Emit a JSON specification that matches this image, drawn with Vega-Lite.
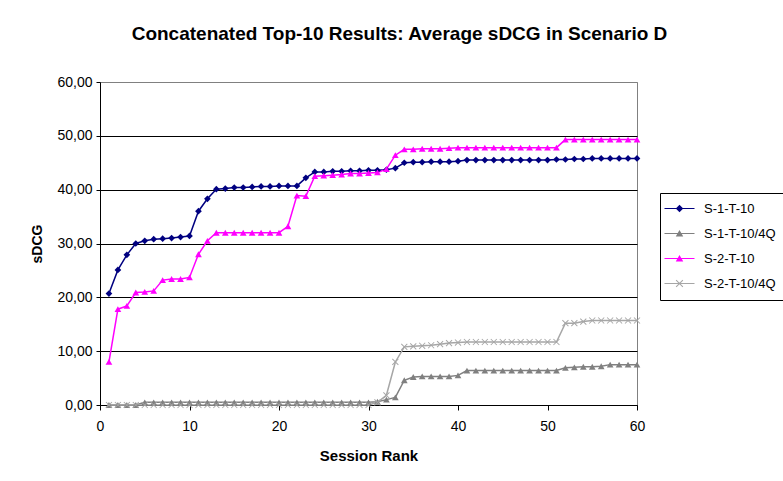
{
  "$schema": "https://vega.github.io/schema/vega-lite/v6.json",
  "width": 537,
  "height": 323,
  "autosize": "none",
  "padding": {"left": 100, "top": 82, "right": 146, "bottom": 76},
  "background": "white",
  "config": {"view": {"stroke": "#808080", "strokeWidth": 1}, "font": "Liberation Sans"},
  "title": {"text": "Concatenated Top-10 Results: Average sDCG in Scenario D", "font": "Liberation Sans", "fontSize": 19, "fontWeight": "bold", "color": "black", "anchor": "middle", "dx": 31, "offset": 31},
  "data": {"values": [
    {"rank": 1, "S-1-T-10": 20.7, "S-1-T-10/4Q": 0.0, "S-2-T-10": 8.0, "S-2-T-10/4Q": 0.0},
    {"rank": 2, "S-1-T-10": 25.1, "S-1-T-10/4Q": 0.0, "S-2-T-10": 17.8, "S-2-T-10/4Q": 0.0},
    {"rank": 3, "S-1-T-10": 27.9, "S-1-T-10/4Q": 0.0, "S-2-T-10": 18.4, "S-2-T-10/4Q": 0.0},
    {"rank": 4, "S-1-T-10": 30.0, "S-1-T-10/4Q": 0.0, "S-2-T-10": 20.9, "S-2-T-10/4Q": 0.0},
    {"rank": 5, "S-1-T-10": 30.5, "S-1-T-10/4Q": 0.5, "S-2-T-10": 21.0, "S-2-T-10/4Q": 0.0},
    {"rank": 6, "S-1-T-10": 30.8, "S-1-T-10/4Q": 0.5, "S-2-T-10": 21.2, "S-2-T-10/4Q": 0.0},
    {"rank": 7, "S-1-T-10": 30.9, "S-1-T-10/4Q": 0.5, "S-2-T-10": 23.2, "S-2-T-10/4Q": 0.0},
    {"rank": 8, "S-1-T-10": 31.0, "S-1-T-10/4Q": 0.5, "S-2-T-10": 23.4, "S-2-T-10/4Q": 0.0},
    {"rank": 9, "S-1-T-10": 31.2, "S-1-T-10/4Q": 0.5, "S-2-T-10": 23.4, "S-2-T-10/4Q": 0.0},
    {"rank": 10, "S-1-T-10": 31.4, "S-1-T-10/4Q": 0.5, "S-2-T-10": 23.7, "S-2-T-10/4Q": 0.0},
    {"rank": 11, "S-1-T-10": 36.0, "S-1-T-10/4Q": 0.5, "S-2-T-10": 28.0, "S-2-T-10/4Q": 0.0},
    {"rank": 12, "S-1-T-10": 38.3, "S-1-T-10/4Q": 0.5, "S-2-T-10": 30.5, "S-2-T-10/4Q": 0.0},
    {"rank": 13, "S-1-T-10": 40.1, "S-1-T-10/4Q": 0.5, "S-2-T-10": 32.0, "S-2-T-10/4Q": 0.0},
    {"rank": 14, "S-1-T-10": 40.2, "S-1-T-10/4Q": 0.5, "S-2-T-10": 32.0, "S-2-T-10/4Q": 0.0},
    {"rank": 15, "S-1-T-10": 40.4, "S-1-T-10/4Q": 0.5, "S-2-T-10": 32.0, "S-2-T-10/4Q": 0.0},
    {"rank": 16, "S-1-T-10": 40.4, "S-1-T-10/4Q": 0.5, "S-2-T-10": 32.0, "S-2-T-10/4Q": 0.0},
    {"rank": 17, "S-1-T-10": 40.5, "S-1-T-10/4Q": 0.5, "S-2-T-10": 32.0, "S-2-T-10/4Q": 0.0},
    {"rank": 18, "S-1-T-10": 40.6, "S-1-T-10/4Q": 0.5, "S-2-T-10": 32.0, "S-2-T-10/4Q": 0.0},
    {"rank": 19, "S-1-T-10": 40.6, "S-1-T-10/4Q": 0.5, "S-2-T-10": 32.0, "S-2-T-10/4Q": 0.0},
    {"rank": 20, "S-1-T-10": 40.7, "S-1-T-10/4Q": 0.5, "S-2-T-10": 32.0, "S-2-T-10/4Q": 0.0},
    {"rank": 21, "S-1-T-10": 40.7, "S-1-T-10/4Q": 0.5, "S-2-T-10": 33.2, "S-2-T-10/4Q": 0.0},
    {"rank": 22, "S-1-T-10": 40.7, "S-1-T-10/4Q": 0.5, "S-2-T-10": 38.9, "S-2-T-10/4Q": 0.0},
    {"rank": 23, "S-1-T-10": 42.2, "S-1-T-10/4Q": 0.5, "S-2-T-10": 38.8, "S-2-T-10/4Q": 0.0},
    {"rank": 24, "S-1-T-10": 43.3, "S-1-T-10/4Q": 0.5, "S-2-T-10": 42.5, "S-2-T-10/4Q": 0.0},
    {"rank": 25, "S-1-T-10": 43.3, "S-1-T-10/4Q": 0.5, "S-2-T-10": 42.6, "S-2-T-10/4Q": 0.0},
    {"rank": 26, "S-1-T-10": 43.4, "S-1-T-10/4Q": 0.5, "S-2-T-10": 42.7, "S-2-T-10/4Q": 0.0},
    {"rank": 27, "S-1-T-10": 43.4, "S-1-T-10/4Q": 0.5, "S-2-T-10": 42.8, "S-2-T-10/4Q": 0.0},
    {"rank": 28, "S-1-T-10": 43.5, "S-1-T-10/4Q": 0.5, "S-2-T-10": 43.0, "S-2-T-10/4Q": 0.0},
    {"rank": 29, "S-1-T-10": 43.5, "S-1-T-10/4Q": 0.5, "S-2-T-10": 43.0, "S-2-T-10/4Q": 0.0},
    {"rank": 30, "S-1-T-10": 43.6, "S-1-T-10/4Q": 0.5, "S-2-T-10": 43.1, "S-2-T-10/4Q": 0.0},
    {"rank": 31, "S-1-T-10": 43.6, "S-1-T-10/4Q": 0.6, "S-2-T-10": 43.2, "S-2-T-10/4Q": 0.5},
    {"rank": 32, "S-1-T-10": 43.7, "S-1-T-10/4Q": 1.0, "S-2-T-10": 43.8, "S-2-T-10/4Q": 1.8},
    {"rank": 33, "S-1-T-10": 44.0, "S-1-T-10/4Q": 1.4, "S-2-T-10": 46.4, "S-2-T-10/4Q": 8.0},
    {"rank": 34, "S-1-T-10": 45.0, "S-1-T-10/4Q": 4.6, "S-2-T-10": 47.5, "S-2-T-10/4Q": 10.8},
    {"rank": 35, "S-1-T-10": 45.1, "S-1-T-10/4Q": 5.2, "S-2-T-10": 47.5, "S-2-T-10/4Q": 10.9},
    {"rank": 36, "S-1-T-10": 45.1, "S-1-T-10/4Q": 5.3, "S-2-T-10": 47.6, "S-2-T-10/4Q": 11.0},
    {"rank": 37, "S-1-T-10": 45.2, "S-1-T-10/4Q": 5.3, "S-2-T-10": 47.6, "S-2-T-10/4Q": 11.1},
    {"rank": 38, "S-1-T-10": 45.2, "S-1-T-10/4Q": 5.3, "S-2-T-10": 47.6, "S-2-T-10/4Q": 11.3},
    {"rank": 39, "S-1-T-10": 45.2, "S-1-T-10/4Q": 5.3, "S-2-T-10": 47.7, "S-2-T-10/4Q": 11.5},
    {"rank": 40, "S-1-T-10": 45.3, "S-1-T-10/4Q": 5.5, "S-2-T-10": 47.8, "S-2-T-10/4Q": 11.6},
    {"rank": 41, "S-1-T-10": 45.5, "S-1-T-10/4Q": 6.4, "S-2-T-10": 47.8, "S-2-T-10/4Q": 11.7},
    {"rank": 42, "S-1-T-10": 45.5, "S-1-T-10/4Q": 6.4, "S-2-T-10": 47.8, "S-2-T-10/4Q": 11.7},
    {"rank": 43, "S-1-T-10": 45.5, "S-1-T-10/4Q": 6.4, "S-2-T-10": 47.8, "S-2-T-10/4Q": 11.7},
    {"rank": 44, "S-1-T-10": 45.5, "S-1-T-10/4Q": 6.4, "S-2-T-10": 47.8, "S-2-T-10/4Q": 11.7},
    {"rank": 45, "S-1-T-10": 45.5, "S-1-T-10/4Q": 6.4, "S-2-T-10": 47.8, "S-2-T-10/4Q": 11.7},
    {"rank": 46, "S-1-T-10": 45.5, "S-1-T-10/4Q": 6.4, "S-2-T-10": 47.8, "S-2-T-10/4Q": 11.7},
    {"rank": 47, "S-1-T-10": 45.5, "S-1-T-10/4Q": 6.4, "S-2-T-10": 47.8, "S-2-T-10/4Q": 11.7},
    {"rank": 48, "S-1-T-10": 45.5, "S-1-T-10/4Q": 6.4, "S-2-T-10": 47.8, "S-2-T-10/4Q": 11.7},
    {"rank": 49, "S-1-T-10": 45.5, "S-1-T-10/4Q": 6.4, "S-2-T-10": 47.8, "S-2-T-10/4Q": 11.7},
    {"rank": 50, "S-1-T-10": 45.5, "S-1-T-10/4Q": 6.4, "S-2-T-10": 47.8, "S-2-T-10/4Q": 11.7},
    {"rank": 51, "S-1-T-10": 45.6, "S-1-T-10/4Q": 6.4, "S-2-T-10": 47.8, "S-2-T-10/4Q": 11.7},
    {"rank": 52, "S-1-T-10": 45.6, "S-1-T-10/4Q": 6.9, "S-2-T-10": 49.3, "S-2-T-10/4Q": 15.2},
    {"rank": 53, "S-1-T-10": 45.7, "S-1-T-10/4Q": 7.0, "S-2-T-10": 49.3, "S-2-T-10/4Q": 15.2},
    {"rank": 54, "S-1-T-10": 45.7, "S-1-T-10/4Q": 7.1, "S-2-T-10": 49.3, "S-2-T-10/4Q": 15.5},
    {"rank": 55, "S-1-T-10": 45.8, "S-1-T-10/4Q": 7.1, "S-2-T-10": 49.3, "S-2-T-10/4Q": 15.7},
    {"rank": 56, "S-1-T-10": 45.8, "S-1-T-10/4Q": 7.2, "S-2-T-10": 49.3, "S-2-T-10/4Q": 15.7},
    {"rank": 57, "S-1-T-10": 45.8, "S-1-T-10/4Q": 7.5, "S-2-T-10": 49.3, "S-2-T-10/4Q": 15.7},
    {"rank": 58, "S-1-T-10": 45.8, "S-1-T-10/4Q": 7.5, "S-2-T-10": 49.3, "S-2-T-10/4Q": 15.7},
    {"rank": 59, "S-1-T-10": 45.8, "S-1-T-10/4Q": 7.5, "S-2-T-10": 49.3, "S-2-T-10/4Q": 15.7},
    {"rank": 60, "S-1-T-10": 45.8, "S-1-T-10/4Q": 7.5, "S-2-T-10": 49.3, "S-2-T-10/4Q": 15.7}
  ]},
  "transform": [{"fold": ["S-1-T-10", "S-1-T-10/4Q", "S-2-T-10", "S-2-T-10/4Q"], "as": ["series", "sDCG"]}],
  "encoding": {
    "x": {"field": "rank", "type": "quantitative", "scale": {"domain": [0, 60], "nice": false, "zero": false},
      "axis": {"values": [0, 10, 20, 30, 40, 50, 60], "grid": false, "domainColor": "black", "tickColor": "black", "tickSize": 5,
        "labelFont": "Liberation Sans", "labelFontSize": 14, "labelColor": "black", "labelPadding": 9, "labelFlush": false,
        "title": "Session Rank", "titleFont": "Liberation Sans", "titleFontSize": 15, "titleFontWeight": "bold", "titleColor": "black", "titlePadding": 15}},
    "y": {"field": "sDCG", "type": "quantitative", "scale": {"domain": [0, 60], "nice": false},
      "axis": {"values": [0, 10, 20, 30, 40, 50, 60], "grid": true,
        "gridColor": {"condition": {"test": "datum.value === 60", "value": "#808080"}, "value": "black"},
        "gridWidth": 1, "domainColor": "black", "tickColor": "black", "tickSize": 4,
        "labelExpr": "replace(format(datum.value, '.2f'), '.', ',')",
        "labelFont": "Liberation Sans", "labelFontSize": 14, "labelColor": "black", "labelPadding": 4,
        "title": "sDCG", "titleFont": "Liberation Sans", "titleFontSize": 14, "titleFontWeight": "bold", "titleColor": "black", "titlePadding": 12}},
    "color": {"field": "series", "type": "nominal",
      "scale": {"domain": ["S-1-T-10", "S-1-T-10/4Q", "S-2-T-10", "S-2-T-10/4Q"], "range": ["#000080", "#808080", "#FF00FF", "#A6A6A6"]},
      "legend": null}
  },
  "layer": [
    {"mark": {"type": "line", "strokeWidth": 1.5}},
    {"mark": {"type": "point", "filled": true, "size": 45, "opacity": 1},
      "encoding": {"shape": {"field": "series", "type": "nominal",
        "scale": {"domain": ["S-1-T-10", "S-1-T-10/4Q", "S-2-T-10", "S-2-T-10/4Q"], "range": ["diamond", "triangle-up", "triangle-up", "M-0.8,-1L1,0.8L0.8,1L-1,-0.8Z M1,-0.8L-0.8,1L-1,0.8L0.8,-1Z"]},
        "legend": null}}},
    {"transform": [{"filter": "datum.rank > 1000"}],
      "mark": {"type": "point", "filled": true, "opacity": 1},
      "encoding": {
        "color": {"field": "series", "type": "nominal",
          "scale": {"domain": ["S-1-T-10", "S-1-T-10/4Q", "S-2-T-10", "S-2-T-10/4Q"], "range": ["#000080", "#808080", "#FF00FF", "#A6A6A6"]},
          "legend": {"title": null, "orient": "none", "legendX": 560, "legendY": 111, "strokeColor": "black", "fillColor": "white", "padding": 9,
            "symbolSize": 100, "symbolStrokeWidth": 0, "symbolOpacity": 1, "labelFont": "Liberation Sans", "labelFontSize": 13, "labelColor": "black", "labelOffset": 22, "rowPadding": 11,
            "labelLimit": 200}},
        "shape": {"field": "series", "type": "nominal",
          "scale": {"domain": ["S-1-T-10", "S-1-T-10/4Q", "S-2-T-10", "S-2-T-10/4Q"], "range": [
            "M-2.2,-0.12L3.8,-0.12L3.8,0.12L-2.2,0.12Z M0.8,-0.75L1.55,0L0.8,0.75L0.05,0Z",
            "M-2.2,-0.12L3.8,-0.12L3.8,0.12L-2.2,0.12Z M0.8,-0.7L1.55,0.6L0.05,0.6Z",
            "M-2.2,-0.12L3.8,-0.12L3.8,0.12L-2.2,0.12Z M0.8,-0.7L1.55,0.6L0.05,0.6Z",
            "M-2.2,-0.12L3.8,-0.12L3.8,0.12L-2.2,0.12Z M0.2,-0.75L1.55,0.6L1.4,0.75L0.05,-0.6Z M1.55,-0.6L0.2,0.75L0.05,0.6L1.4,-0.75Z"]},
          "legend": {"title": null}}}}
  ],
  "resolve": {"scale": {"shape": "independent", "color": "independent"}}
}
